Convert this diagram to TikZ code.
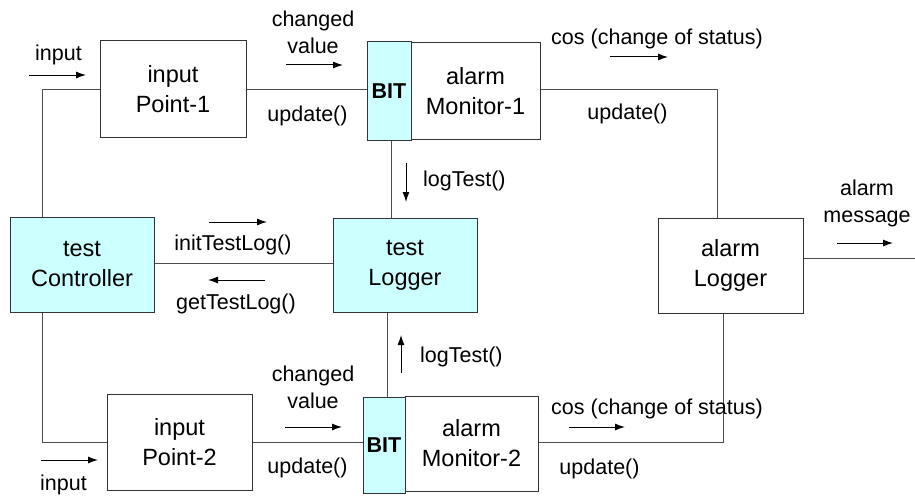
\documentclass[tikz,border=0pt]{standalone}
\usepackage{fontspec}
\setmainfont{Liberation Sans}
\usetikzlibrary{arrows.meta}
\definecolor{testcyan}{HTML}{CCFFFF}
\tikzset{
	box/.style={draw=black!80, line width=1pt, rectangle, inner sep=0pt, align=center, font=\fontsize{23.5}{30}\selectfont},
	testbox/.style={box, fill=testcyan},
	bitbox/.style={draw=black!80, line width=1pt, fill=testcyan, inner sep=0pt, font=\fontsize{21.5}{24}\selectfont\bfseries},
	lbl/.style={inner sep=0pt, align=center, font=\fontsize{21.5}{27}\selectfont},
	wire/.style={draw=black!70, line width=1pt},
	flow/.style={line width=1pt, -{Latex[length=10pt,width=7pt]}},
}

\begin{document}
\begin{tikzpicture}[x=1pt, y=-1pt]
		%%%%% START %%%%%
		\useasboundingbox (0,0) rectangle (915,495);
		
		\node[box, minimum width=146pt, minimum height=96pt] (p1) at (173,89) {input\\Point-1};
		\node[bitbox, minimum width=44pt, minimum height=98pt] (bit1) at (389,91) {BIT};
		\node[box, minimum width=129pt, minimum height=96pt] (mon1) at (475.5,91) {alarm\\Monitor-1};
		
		\node[testbox, minimum width=144pt, minimum height=95pt] (ctrl) at (82,264.5) {test\\Controller};
		\node[testbox, minimum width=144pt, minimum height=94pt] (tlog) at (405,265) {test\\Logger};
		\node[box, minimum width=145pt, minimum height=95pt] (alog) at (730.5,265.5) {alarm\\Logger};
		
		\node[box, minimum width=145pt, minimum height=96pt] (p2) at (179.5,442) {input\\Point-2};
		\node[bitbox, minimum width=42pt, minimum height=96pt] (bit2) at (384,445) {BIT};
		\node[box, minimum width=133pt, minimum height=95pt] (mon2) at (471.5,443.5) {alarm\\Monitor-2};
		
		\coordinate (out) at (915,258);
		
		\draw[wire] ([xshift=-40pt]ctrl.north) |- (p1.west);
		\draw[wire] (p1.east) -- (p1.east -| bit1.west);
		\draw[wire] (mon1.east |- p1.east) -| ([xshift=-13.5pt]alog.north);
		\draw[wire] ([xshift=2pt]bit1.south) -- ([xshift=2pt]bit1.south |- tlog.north);
		\draw[wire] (ctrl.east |- 0,263) -- (tlog.west |- 0,263);
		\draw[wire] ([xshift=-18pt]tlog.south) -- ([xshift=-18pt]tlog.south |- bit2.north);
		\draw[wire] ([xshift=-40pt]ctrl.south) |- (p2.west);
		\draw[wire] (p2.east) -- (p2.east -| bit2.west);
		\draw[wire] (mon2.east |- p2.east) -| ([xshift=-7.5pt]alog.south);
		\draw[wire] (alog.east |- out) -- (out);
		
		\node[lbl] (in1) at (58.5,55) {input};
		\draw[flow] (29,75) -- (86,75);
		\node[lbl] (chg1) at (313,32.5) {changed\\value};
		\draw[flow] (286,65) -- (343,65);
		\node[lbl] (upd1) at (307.5,116) {update()};
		
		\node[lbl] (cos1) at (657,39) {cos (change of status)};
		\draw[flow] (610,57) -- (668,57);
		\node[lbl] (upd2) at (627.5,113.5) {update()};
		
		\node[lbl, anchor=west] (lt1) at (423,181) {logTest()};
		\draw[flow] (406,163) -- (406,202);
		
		\node[lbl] (init) at (233,244.5) {initTestLog()};
		\draw[flow] (209,222) -- (267,222);
		\node[lbl] (get) at (236,303.5) {getTestLog()};
		\draw[flow] (265,280) -- (208,280);
		
		\node[lbl] (msg) at (867,203.5) {alarm\\message};
		\draw[flow] (837,243) -- (893,243);
		
		\node[lbl, anchor=west] (lt2) at (420,357) {logTest()};
		\draw[flow] (401,373) -- (401,335);
		
		\node[lbl] (chg2) at (313,387) {changed\\value};
		\draw[flow] (285,427) -- (342,427);
		\node[lbl] (upd3) at (307.5,468) {update()};
		
		\node[lbl] (cos2) at (657,408.5) {cos (change of status)};
		\draw[flow] (569,427) -- (625,427);
		\node[lbl] (upd4) at (599.5,468.5) {update()};
		
		\node[lbl] (in2) at (63.5,484.5) {input};
		\draw[flow] (41,460) -- (98,460);
		%%%%% END %%%%%
\end{tikzpicture}
\end{document}
